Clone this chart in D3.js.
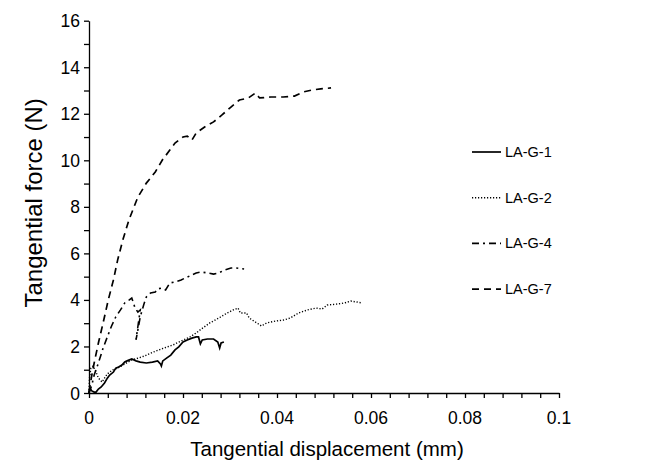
<!DOCTYPE html>
<html>
<head>
<meta charset="utf-8">
<script src="https://cdn.jsdelivr.net/npm/d3@7"></script>
<style>
  body { margin: 0; background: #fff; }
  svg { display: block; font-family: Arial, "Liberation Sans", sans-serif; }
</style>
</head>
<body>
<div id="chart"></div>
<script>
// displacement (mm) / force (N)
const g1X = [0, 0.0002, 0.0006, 0.0011, 0.0015, 0.0020, 0.0026, 0.0033, 0.0039, 0.0044, 0.0052, 0.0057, 0.0063, 0.0070, 0.0076, 0.0081, 0.0091, 0.0100, 0.0109, 0.0122, 0.0135, 0.0146, 0.0152, 0.0154, 0.0157, 0.0165, 0.0174, 0.0183, 0.0191, 0.0200, 0.0209, 0.0219, 0.0228, 0.0233, 0.0237, 0.0241, 0.0252, 0.0265, 0.0274, 0.0278, 0.0281, 0.0287]
const g1Y = [0, 0.21, 0.09, 0.04, 0.04, 0.17, 0.26, 0.43, 0.64, 0.77, 0.90, 1.07, 1.12, 1.20, 1.33, 1.38, 1.46, 1.38, 1.33, 1.29, 1.33, 1.38, 1.25, 1.16, 1.38, 1.50, 1.63, 1.85, 1.98, 2.19, 2.28, 2.36, 2.41, 2.41, 2.11, 2.28, 2.32, 2.32, 2.19, 1.93, 2.15, 2.19]

const g2X = [0, 0.0001, 0.0004, 0.0009, 0.0015, 0.0020, 0.0028, 0.0033, 0.0039, 0.0050, 0.0061, 0.0072, 0.0091, 0.0113, 0.0137, 0.0159, 0.0178, 0.0196, 0.0215, 0.0228, 0.0239, 0.0257, 0.0276, 0.0294, 0.0307, 0.0317, 0.0322, 0.0335, 0.0341, 0.0354, 0.0367, 0.0378, 0.0396, 0.0415, 0.0428, 0.0446, 0.0465, 0.0483, 0.0496, 0.0507, 0.0526, 0.0544, 0.0557, 0.0570, 0.0581]
const g2Y = [0, 0.64, 1.07, 1.16, 0.90, 0.64, 0.47, 0.64, 0.82, 0.99, 1.07, 1.20, 1.42, 1.55, 1.76, 1.93, 2.06, 2.23, 2.41, 2.58, 2.75, 3.01, 3.22, 3.44, 3.57, 3.65, 3.44, 3.44, 3.22, 3.05, 2.88, 3.01, 3.09, 3.14, 3.22, 3.44, 3.57, 3.65, 3.61, 3.78, 3.82, 3.87, 3.95, 3.91, 3.87]

const g4X = [0, 0.0006, 0.0011, 0.0020, 0.0030, 0.0039, 0.0048, 0.0057, 0.0067, 0.0076, 0.0085, 0.0091, 0.0094, 0.0098, 0.0104, 0.0109, 0.0100, 0.0104, 0.0109, 0.0117, 0.0122, 0.0131, 0.0141, 0.0146, 0.0154, 0.0163, 0.0172, 0.0183, 0.0196, 0.0209, 0.0228, 0.0239, 0.0252, 0.0265, 0.0276, 0.0289, 0.0302, 0.0313, 0.0330]
const g4Y = [0, 0.34, 0.77, 1.29, 1.93, 2.41, 2.88, 3.27, 3.57, 3.87, 3.99, 4.08, 3.91, 3.65, 3.48, 3.57, 2.28, 2.71, 3.27, 3.83, 4.13, 4.30, 4.34, 4.47, 4.51, 4.43, 4.73, 4.77, 4.86, 4.98, 5.16, 5.20, 5.16, 5.11, 5.16, 5.29, 5.37, 5.37, 5.33]

const g7X = [0, 0.0006, 0.0011, 0.0020, 0.0030, 0.0041, 0.0052, 0.0061, 0.0072, 0.0085, 0.0104, 0.0122, 0.0131, 0.0141, 0.0156, 0.0172, 0.0183, 0.0200, 0.0209, 0.0219, 0.0228, 0.0246, 0.0265, 0.0283, 0.0302, 0.0320, 0.0339, 0.0354, 0.0363, 0.0387, 0.0413, 0.0437, 0.0456, 0.0474, 0.0493, 0.0515]
const g7Y = [0.04, 0.77, 1.29, 2.15, 3.01, 4.00, 4.86, 5.72, 6.58, 7.44, 8.42, 9.02, 9.24, 9.50, 10.01, 10.44, 10.74, 11.00, 11.04, 10.87, 11.17, 11.43, 11.65, 11.95, 12.29, 12.59, 12.68, 12.89, 12.68, 12.72, 12.72, 12.76, 12.94, 13.02, 13.07, 13.11]

const seriesNames = ['LA-G-1', 'LA-G-2', 'LA-G-4', 'LA-G-7']
const xTickLabels = [0, 0.02, 0.04, 0.06, 0.08, 0.1]
const yTickLabels = [0, 2, 4, 6, 8, 10, 12, 14, 16]

const series = [
  { name: seriesNames[0], xs: g1X, ys: g1Y, dash: null, w: 1.7 },
  { name: seriesNames[1], xs: g2X, ys: g2Y, dash: '1.2,1.8', w: 1.4 },
  { name: seriesNames[2], xs: g4X, ys: g4Y, dash: '7,4,2,4', w: 1.6 },
  { name: seriesNames[3], xs: g7X, ys: g7Y, dash: '7,5', w: 1.7 }
]

const W = 655
const H = 463

const svg = d3.select('#chart')
  .append('svg')
  .attr('width', W)
  .attr('height', H)

const x = d3.scaleLinear().domain([0, 0.1]).range([89, 559])
const y = d3.scaleLinear().domain([0, 16]).range([393, 20.7])

// x axis: minor ticks every 0.004, labels every 0.02
const xAxis = svg.append('g')
  .attr('transform', `translate(0,${y(0)})`)
  .call(d3.axisBottom(x)
    .tickValues(d3.range(0, 26).map(i => i * 0.004))
    .tickSize(5)
    .tickSizeOuter(0)
    .tickFormat(''))
xAxis.selectAll('path, line').attr('stroke', '#000').attr('stroke-width', 1.3)

svg.append('g')
  .selectAll('text')
  .data(xTickLabels)
  .enter()
  .append('text')
  .attr('x', d => x(d))
  .attr('y', y(0) + 31)
  .attr('text-anchor', 'middle')
  .attr('font-size', 17.5)
  .text(d => String(d))

// y axis: minor ticks every 1, labels every 2
const yAxis = svg.append('g')
  .attr('transform', `translate(${x(0)},0)`)
  .call(d3.axisLeft(y)
    .tickValues(d3.range(0, 17))
    .tickSize(5)
    .tickSizeOuter(0)
    .tickFormat(''))
yAxis.selectAll('path, line').attr('stroke', '#000').attr('stroke-width', 1.3)

svg.append('g')
  .selectAll('text')
  .data(yTickLabels)
  .enter()
  .append('text')
  .attr('x', x(0) - 9)
  .attr('y', d => y(d) + 6.5)
  .attr('text-anchor', 'end')
  .attr('font-size', 17.5)
  .text(d => d)

// axis titles
svg.append('text')
  .attr('x', 327)
  .attr('y', 456)
  .attr('text-anchor', 'middle')
  .attr('font-size', 20.5)
  .text('Tangential displacement (mm)')

svg.append('text')
  .attr('transform', `translate(42,${y(8) - 4}) rotate(-90)`)
  .attr('text-anchor', 'middle')
  .attr('font-size', 24)
  .text('Tangential force (N)')

// curves
const line = d3.line()
  .x(d => x(d[0]))
  .y(d => y(d[1]))

svg.append('g')
  .attr('class', 'curves')
  .selectAll('path')
  .data(series)
  .enter()
  .append('path')
  .attr('d', s => line(s.xs.map((v, i) => [v, s.ys[i]])))
  .attr('fill', 'none')
  .attr('stroke', '#000')
  .attr('stroke-width', s => s.w)
  .attr('stroke-dasharray', s => s.dash)

// legend
const legend = svg.append('g')
  .selectAll('g')
  .data(series)
  .enter()
  .append('g')
  .attr('transform', (s, i) => `translate(472,${152 + i * 45.7})`)

legend.append('line')
  .attr('x1', 0)
  .attr('x2', 29)
  .attr('stroke', '#000')
  .attr('stroke-width', s => s.w)
  .attr('stroke-dasharray', s => s.dash)

legend.append('text')
  .attr('x', 33)
  .attr('y', 5)
  .attr('font-size', 14.5)
  .text(s => s.name)
</script>
</body>
</html>
